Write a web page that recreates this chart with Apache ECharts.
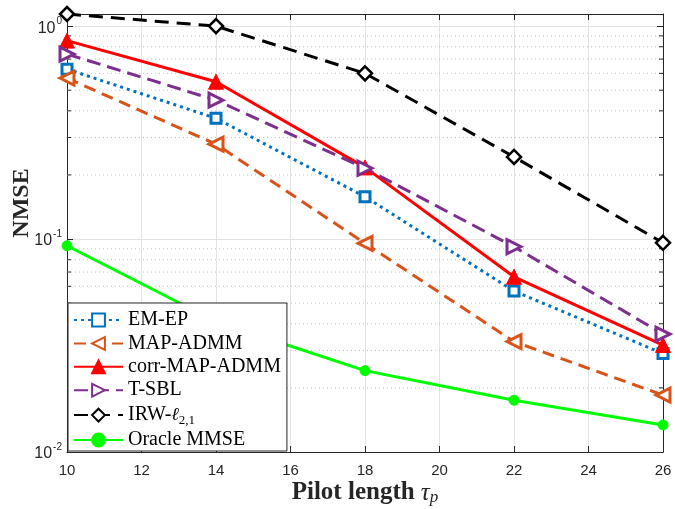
<!DOCTYPE html>
<html>
<head>
<meta charset="utf-8">
<script src="https://cdn.jsdelivr.net/npm/echarts@6/dist/echarts.min.js"></script>
<style>
  html, body { margin: 0; padding: 0; background: #fff; }
  #chart { width: 675px; height: 509px; }
</style>
</head>
<body>
<div id="chart"></div>
<script>
// pilot lengths
const pilotLen = [10, 14, 18, 22, 26];
// NMSE per algorithm
const emEp     = [0.628, 0.369, 0.158, 0.057, 0.029];
const mapAdmm  = [0.570, 0.279, 0.0955, 0.033, 0.0185];
const corrMap  = [0.855, 0.548, 0.217, 0.0665, 0.0318];
const tSbl     = [0.739, 0.449, 0.215, 0.092, 0.0358];
const irw      = [1.14, 1.0, 0.600, 0.243, 0.096];
const oracle   = [0.093, 0.041, 0.0241, 0.0175, 0.0134];
// log-axis minor grid values
const minorTicks = [0.02, 0.03, 0.04, 0.05, 0.06, 0.07, 0.08, 0.09,
                    0.2, 0.3, 0.4, 0.5, 0.6, 0.7, 0.8, 0.9];

const AX = '#262626';
const pairs = arr => pilotLen.map((x, i) => [x, arr[i]]);

function mk(name, data, color, dash, symbol, size, hollow, rotate, bw) {
    return {
        name: name,
        type: 'line',
        data: pairs(data),
        symbol: symbol,
        symbolSize: size,
        symbolRotate: rotate || 0,
        showAllSymbol: true,
        clip: false,
        z: 5,
        lineStyle: { color: color, width: 3, type: dash },
        itemStyle: hollow
            ? { color: '#fff', borderColor: color, borderWidth: bw || 2.5 }
            : { color: color, borderColor: color, borderWidth: 1 }
    };
}

const chart = echarts.init(document.getElementById('chart'));
const supFmt = v => {
    const e = Math.round(Math.log10(v));
    return '{b|10}{s|' + e + '}';
};
const supRich = {
    b: { fontSize: 16, fontFamily: 'Liberation Sans', color: AX, verticalAlign: 'bottom', padding: [4, 0, 0, 0] },
    s: { fontSize: 10, fontFamily: 'Liberation Sans', color: AX, verticalAlign: 'top', padding: [0, 0, 0, 1] }
};

chart.setOption({
    animation: false,
    grid: { left: 67, right: 12, top: 14, bottom: 57, outerBoundsMode: 'none', containLabel: false },
    xAxis: [{
        type: 'value', min: 10, max: 26, interval: 2,
        name: '{b|Pilot length }{it|τ}{sub|p}',
        nameLocation: 'middle', nameGap: 28, nameMoveOverlap: false,
        nameTextStyle: {
            rich: {
                b: { fontFamily: 'Liberation Serif', fontWeight: 'bold', fontSize: 25, color: AX },
                it: { fontFamily: 'Liberation Serif', fontStyle: 'italic', fontSize: 25, color: AX },
                sub: { fontFamily: 'Liberation Serif', fontStyle: 'italic', fontSize: 17, color: AX, padding: [9, 0, 0, 0] }
            }
        },
        axisLine: { lineStyle: { color: AX, width: 1 } },
        axisTick: { inside: true, length: 6, lineStyle: { color: AX } },
        axisLabel: { fontFamily: 'Liberation Sans', fontSize: 15, color: AX, margin: 11 },
        splitLine: { lineStyle: { color: '#e3e3e3', width: 1 } }
    }, {
        type: 'value', min: 10, max: 26, interval: 2, position: 'top',
        axisLine: { show: true, lineStyle: { color: AX, width: 1 } },
        axisTick: { inside: true, length: 6, lineStyle: { color: AX } },
        axisLabel: { show: false }, splitLine: { show: false }
    }],
    yAxis: [{
        type: 'log', logBase: 10, min: 0.01, max: 1.14,
        name: 'NMSE', nameLocation: 'middle', nameGap: 33, nameMoveOverlap: false,
        nameTextStyle: {
            fontFamily: 'Liberation Serif', fontWeight: 'bold', fontSize: 24, color: AX,
            padding: [0, 0, 0, 60]
        },
        axisLine: { show: true, lineStyle: { color: AX, width: 1 } },
        axisTick: { show: true, inside: true, length: 6, lineStyle: { color: AX } },
        axisLabel: {
            formatter: supFmt, rich: supRich, margin: 5,
            showMaxLabel: false
        },
        splitLine: { show: true, lineStyle: { color: '#e3e3e3', width: 1 } }
    }, {
        type: 'log', logBase: 10, min: 0.01, max: 1.14, position: 'right',
        axisLine: { show: true, lineStyle: { color: AX, width: 1 } },
        axisTick: { show: true, inside: true, length: 6, lineStyle: { color: AX } },
        axisLabel: { show: false }, splitLine: { show: false }
    }],
    legend: {
        orient: 'vertical',
        left: 68, top: 303, z: 20,
        padding: [7, 6, 1, 5],
        itemWidth: 49, itemHeight: 16, itemGap: 3.4,
        backgroundColor: '#fff',
        borderColor: AX, borderWidth: 1, borderRadius: 0,
        data: ['EM-EP', 'MAP-ADMM', 'corr-MAP-ADMM', 'T-SBL', 'IRW', 'Oracle MMSE'],
        formatter: n => n === 'IRW' ? '{t|IRW-}{it|ℓ}{sub|2,1}' : '{t|' + n + '}',
        textStyle: {
            fontFamily: 'Liberation Serif', fontSize: 20, color: '#000',
            rich: {
                t: { fontFamily: 'Liberation Serif', fontSize: 20, color: '#000', lineHeight: 20 },
                it: { fontFamily: 'DejaVu Serif', fontStyle: 'italic', fontSize: 18, color: '#000', lineHeight: 20 },
                sub: { fontFamily: 'Liberation Serif', fontSize: 13, color: '#000', padding: [10, 0, 0, 0], lineHeight: 20 }
            }
        }
    },
    series: [
        {
            type: 'custom',
            name: 'minor',
            silent: true,
            z: 1,
            data: minorTicks,
            renderItem: (params, api) => {
                const cs = params.coordSys;
                const y = api.coord([10, api.value(0)])[1];
                return {
                    type: 'group',
                    children: [
                        { type: 'line', shape: { x1: cs.x, y1: y, x2: cs.x + cs.width, y2: y },
                          style: { stroke: '#c4c4c4', lineWidth: 1, lineDash: [1, 3] } },
                        { type: 'line', shape: { x1: cs.x, y1: y, x2: cs.x + 4, y2: y },
                          style: { stroke: AX, lineWidth: 1 } },
                        { type: 'line', shape: { x1: cs.x + cs.width - 4, y1: y, x2: cs.x + cs.width, y2: y },
                          style: { stroke: AX, lineWidth: 1 } }
                    ]
                };
            },
            encode: { y: 0 }
        },
        mk('EM-EP', emEp, '#0072BD', [3, 4], 'rect', 10, true, 0, 3),
        mk('MAP-ADMM', mapAdmm, '#D95319', [12, 7], 'triangle', 14, true, 90, 3),
        mk('corr-MAP-ADMM', corrMap, '#FF0000', 'solid', 'triangle', 15, false),
        mk('T-SBL', tSbl, '#7E2F8E', [14, 7], 'triangle', 14, true, -90, 3),
        mk('IRW', irw, '#000000', [14, 8], 'diamond', 14, true, 0, 2.5),
        mk('Oracle MMSE', oracle, '#00FF00', 'solid', 'circle', 10, false)
    ]
});
</script>
</body>
</html>
